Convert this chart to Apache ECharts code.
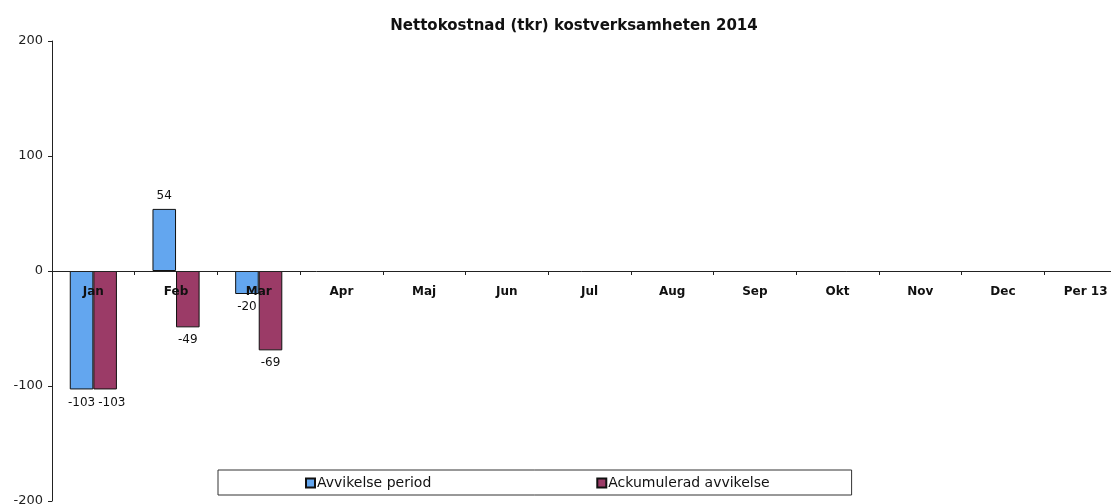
<!DOCTYPE html>
<html>
<head>
<meta charset="utf-8">
<script src="https://cdn.jsdelivr.net/npm/echarts@6/dist/echarts.min.js"></script>
<style>
  html, body { margin: 0; padding: 0; background: #fff; }
  #chart { width: 1111px; height: 504px; }
</style>
</head>
<body>
<div id="chart"></div>
<script>
const months = ['Jan', 'Feb', 'Mar', 'Apr', 'Maj', 'Jun', 'Jul', 'Aug', 'Sep', 'Okt', 'Nov', 'Dec', 'Per 13']
const periodValues = [-103, 54, -20, null, null, null, null, null, null, null, null, null, null]
const accumValues = [-103, -49, -69, null, null, null, null, null, null, null, null, null, null]
const seriesNames = ['Avvikelse period', 'Ackumulerad avvikelse']

const font = 'DejaVu Sans, Verdana, sans-serif'

// negative bars get the label under the bar end
const withLabels = (arr) =>
  arr.map((v) =>
    v == null ? null : { value: v, label: { position: v < 0 ? 'bottom' : 'top' } }
  )

// push the second label right when both labels of a month would collide
const splitLabels = (params) => {
  if (params.seriesIndex !== 1) return {}
  const a = periodValues[params.dataIndex]
  const b = accumValues[params.dataIndex]
  if (a == null || b == null || Math.abs(a - b) > 10) return {}
  const extra = params.labelRect.width - params.rect.width
  return extra > 0 ? { dx: extra + 3 } : {}
}

const chart = echarts.init(document.getElementById('chart'))
chart.setOption({
  animation: false,
  textStyle: { fontFamily: font },
  title: {
    text: 'Nettokostnad (tkr) kostverksamheten 2014',
    left: 569,
    top: 14,
    textAlign: 'center',
    textStyle: { fontSize: 15, fontWeight: 'bold', color: '#111', fontFamily: font },
  },
  color: ['#63a6ef', '#9b3b67'],
  legend: {
    data: seriesNames,
    left: 218,
    top: 470,
    padding: [6, 82, 5, 87],
    itemGap: 165,
    itemWidth: 9,
    itemHeight: 9,
    borderColor: '#333',
    borderWidth: 1,
    icon: 'rect',
    textStyle: { fontSize: 14, color: '#111', fontFamily: font, padding: [0, 0, 0, -3] },
  },
  grid: {
    left: 52,
    right: -16,
    top: 41,
    bottom: 3,
    outerBoundsMode: 'none',
  },
  xAxis: {
    type: 'category',
    data: months,
    offset: -230,
    z: 5,
    axisLine: { onZero: false, lineStyle: { color: '#222', width: 1 } },
    axisTick: { show: true, length: 4, inside: false, lineStyle: { color: '#222' } },
    axisLabel: {
      interval: 0,
      margin: 15,
      fontSize: 12,
      fontWeight: 'bold',
      color: '#111',
      fontFamily: font,
    },
  },
  yAxis: {
    type: 'value',
    min: -200,
    max: 200,
    interval: 100,
    axisLine: { show: true, lineStyle: { color: '#222', width: 1 } },
    axisTick: { show: true, length: 4, lineStyle: { color: '#222' } },
    axisLabel: { fontSize: 13, color: '#222', margin: 9, fontFamily: font },
    splitLine: { show: false },
  },
  series: [
    {
      name: seriesNames[0],
      type: 'bar',
      data: withLabels(periodValues),
      barGap: '0%',
      barCategoryGap: '43%',
      itemStyle: { borderColor: '#111', borderWidth: 1 },
      label: { show: true, fontSize: 12, color: '#111', distance: 7, fontFamily: font },
    },
    {
      name: seriesNames[1],
      type: 'bar',
      data: withLabels(accumValues),
      barGap: '0%',
      barCategoryGap: '43%',
      itemStyle: { borderColor: '#111', borderWidth: 1 },
      label: { show: true, fontSize: 12, color: '#111', distance: 7, fontFamily: font },
      labelLayout: splitLabels,
    },
  ],
})
</script>
</body>
</html>
